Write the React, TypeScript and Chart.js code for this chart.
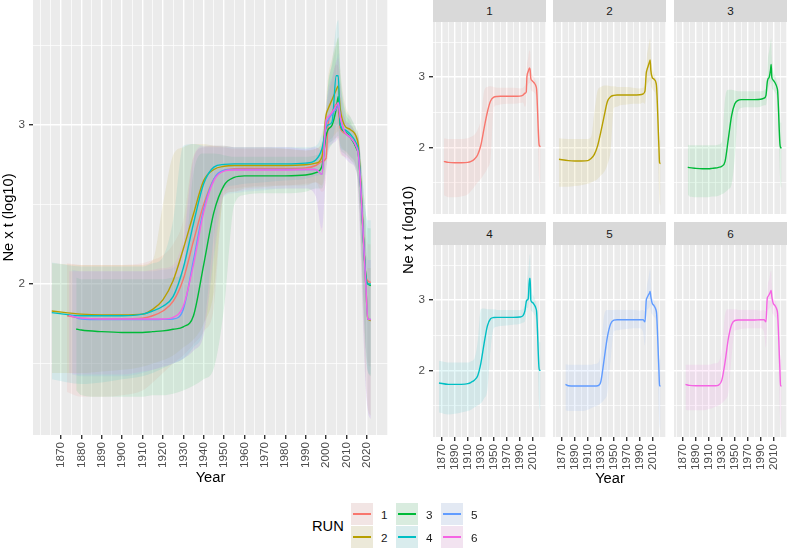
import React, { useEffect, useRef } from "react";
import { Chart, registerables } from "chart.js";
Chart.register(...registerables);

const FONT = "'Liberation Sans', Arial, Helvetica, sans-serif";

const RUN_LABELS = ["1", "2", "3", "4", "5", "6"];
const RUN_COLORS = ["#F8766D", "#B79F00", "#00BA38", "#00BFC4", "#619CFF", "#F564E3"];
const START_YEARS = [1873, 1865.5, 1877.5, 1865.5, 1875.5, 1874];
const YEARS = [1880, 1890, 1900, 1910, 1915, 1920, 1925, 1930, 1935, 1940, 1945, 1950, 1955, 1960, 1970, 1980, 1990, 1995, 1998, 2000, 2001, 2003, 2005, 2006, 2007, 2009, 2012, 2015, 2016, 2019.5, 2020.5, 2022];

const MEAN_1 = [1.80, 1.785, 1.78, 1.78, 1.785, 1.80, 1.83, 1.89, 2.03, 2.27, 2.50, 2.66, 2.715, 2.725, 2.727, 2.727, 2.727, 2.73, 2.745, 2.77, 2.79, 3.00, 3.08, 3.13, 3.10, 2.98, 2.95, 2.92, 2.87, 2.82, 2.06, 2.02, 2.01];
const MEAN_2 = [1.83, 1.81, 1.805, 1.805, 1.81, 1.84, 1.90, 2.02, 2.22, 2.44, 2.65, 2.72, 2.74, 2.745, 2.745, 2.745, 2.745, 2.75, 2.76, 2.80, 3.06, 3.10, 3.16, 3.22, 3.245, 3.10, 3.00, 2.97, 2.92, 2.85, 2.00, 1.78, 1.77];
const MEAN_3 = [1.717, 1.71, 1.70, 1.695, 1.695, 1.70, 1.705, 1.715, 1.73, 1.80, 2.12, 2.45, 2.62, 2.67, 2.68, 2.68, 2.68, 2.685, 2.70, 2.74, 2.93, 2.97, 3.00, 3.10, 3.18, 3.00, 2.96, 2.92, 2.85, 2.80, 2.05, 2.00, 1.99];
const MEAN_4 = [1.82, 1.80, 1.80, 1.80, 1.81, 1.83, 1.86, 1.92, 2.10, 2.38, 2.63, 2.735, 2.752, 2.755, 2.755, 2.755, 2.755, 2.76, 2.78, 2.85, 2.98, 3.00, 3.02, 3.31, 3.31, 3.00, 2.97, 2.94, 2.88, 2.83, 2.05, 2.00, 2.00];
const MEAN_5 = [1.80, 1.78, 1.776, 1.776, 1.776, 1.776, 1.777, 1.78, 1.84, 2.15, 2.47, 2.66, 2.715, 2.72, 2.72, 2.72, 2.72, 2.72, 2.72, 2.69, 3.00, 3.03, 3.07, 3.10, 3.125, 3.05, 2.96, 2.92, 2.86, 2.80, 2.00, 1.78, 1.776];
const MEAN_6 = [1.80, 1.785, 1.78, 1.78, 1.78, 1.78, 1.78, 1.79, 1.86, 2.12, 2.45, 2.65, 2.71, 2.717, 2.717, 2.717, 2.717, 2.72, 2.72, 2.69, 3.03, 3.05, 3.08, 3.12, 3.14, 3.05, 2.96, 2.92, 2.86, 2.80, 2.00, 1.78, 1.776];

const HI_1 = [2.13, 2.12, 2.12, 2.12, 2.13, 2.15, 2.18, 2.25, 2.40, 2.80, 2.86, 2.87, 2.86, 2.85, 2.85, 2.85, 2.85, 2.84, 2.85, 2.88, 2.95, 3.15, 3.28, 3.38, 3.36, 3.15, 3.05, 3.00, 2.95, 2.92, 2.35, 2.25, 2.25];
const LO_1 = [1.32, 1.29, 1.29, 1.30, 1.33, 1.38, 1.44, 1.50, 1.55, 1.62, 1.70, 1.85, 2.57, 2.60, 2.61, 2.62, 2.62, 2.63, 2.64, 2.58, 2.65, 2.85, 2.90, 2.92, 2.90, 2.82, 2.80, 2.78, 2.72, 2.62, 1.60, 1.50, 1.48];
const HI_2 = [2.13, 2.12, 2.12, 2.12, 2.12, 2.15, 2.50, 2.81, 2.86, 2.88, 2.88, 2.87, 2.87, 2.86, 2.86, 2.86, 2.85, 2.84, 2.85, 2.90, 3.15, 3.30, 3.42, 3.52, 3.55, 3.35, 3.15, 3.05, 2.97, 2.93, 2.25, 2.10, 2.10];
const LO_2 = [1.44, 1.44, 1.45, 1.46, 1.48, 1.50, 1.52, 1.55, 1.60, 1.65, 1.75, 1.95, 2.56, 2.58, 2.60, 2.61, 2.62, 2.62, 2.64, 2.62, 2.78, 2.88, 2.92, 2.95, 2.96, 2.88, 2.84, 2.80, 2.72, 2.55, 1.40, 1.22, 1.17];
const HI_3 = [2.04, 2.03, 2.03, 2.03, 2.03, 2.03, 2.03, 2.04, 2.08, 2.70, 2.82, 2.82, 2.81, 2.80, 2.80, 2.80, 2.80, 2.80, 2.81, 2.86, 3.05, 3.25, 3.38, 3.50, 3.55, 3.30, 3.10, 3.02, 2.93, 2.90, 2.45, 2.35, 2.35];
const LO_3 = [1.33, 1.30, 1.29, 1.29, 1.29, 1.30, 1.30, 1.31, 1.33, 1.36, 1.40, 1.47, 1.85, 2.50, 2.56, 2.57, 2.57, 2.58, 2.60, 2.60, 2.72, 2.82, 2.88, 2.92, 2.93, 2.85, 2.82, 2.78, 2.70, 2.60, 1.60, 1.45, 1.42];
const HI_4 = [2.135, 2.11, 2.11, 2.11, 2.11, 2.13, 2.17, 2.40, 2.87, 2.88, 2.87, 2.87, 2.87, 2.86, 2.86, 2.86, 2.86, 2.86, 2.87, 2.95, 3.10, 3.25, 3.40, 3.62, 3.66, 3.35, 3.12, 3.05, 2.97, 2.93, 2.45, 2.40, 2.40];
const LO_4 = [1.40, 1.37, 1.38, 1.40, 1.42, 1.44, 1.47, 1.50, 1.53, 1.60, 1.72, 2.30, 2.60, 2.62, 2.63, 2.64, 2.65, 2.66, 2.68, 2.70, 2.82, 2.88, 2.90, 3.00, 3.00, 2.86, 2.84, 2.80, 2.72, 2.60, 1.55, 1.45, 1.43];
const HI_5 = [2.09, 2.08, 2.08, 2.08, 2.08, 2.08, 2.09, 2.10, 2.25, 2.78, 2.86, 2.86, 2.86, 2.86, 2.86, 2.86, 2.86, 2.85, 2.86, 2.84, 3.10, 3.20, 3.30, 3.40, 3.45, 3.25, 3.05, 3.00, 2.93, 2.90, 2.25, 2.15, 2.15];
const LO_5 = [1.43, 1.42, 1.42, 1.42, 1.44, 1.46, 1.48, 1.50, 1.53, 1.58, 1.68, 2.15, 2.55, 2.57, 2.58, 2.59, 2.60, 2.60, 2.55, 2.35, 2.70, 2.84, 2.88, 2.90, 2.92, 2.84, 2.80, 2.76, 2.70, 2.50, 1.35, 1.20, 1.15];
const HI_6 = [2.08, 2.08, 2.08, 2.08, 2.08, 2.09, 2.10, 2.12, 2.30, 2.80, 2.87, 2.87, 2.87, 2.86, 2.86, 2.86, 2.86, 2.85, 2.86, 2.84, 3.10, 3.22, 3.30, 3.40, 3.42, 3.25, 3.05, 3.00, 2.93, 2.90, 2.25, 2.15, 2.15];
const LO_6 = [1.44, 1.43, 1.43, 1.43, 1.45, 1.46, 1.48, 1.50, 1.53, 1.58, 1.68, 2.20, 2.56, 2.58, 2.59, 2.60, 2.60, 2.60, 2.55, 2.32, 2.70, 2.84, 2.88, 2.90, 2.92, 2.84, 2.80, 2.76, 2.70, 2.50, 1.35, 1.20, 1.15];

const MEANS = [MEAN_1, MEAN_2, MEAN_3, MEAN_4, MEAN_5, MEAN_6];
const HIGHS = [HI_1, HI_2, HI_3, HI_4, HI_5, HI_6];
const LOWS = [LO_1, LO_2, LO_3, LO_4, LO_5, LO_6];

const X_LABELS_MAIN = [1870, 1880, 1890, 1900, 1910, 1920, 1930, 1940, 1950, 1960, 1970, 1980, 1990, 2000, 2010, 2020];
const X_MINOR_MAIN = [1860, 1865, 1875, 1885, 1895, 1905, 1915, 1925, 1935, 1945, 1955, 1965, 1975, 1985, 1995, 2005, 2015, 2025, 2030];
const X_LABELS_FACET = [1870, 1890, 1910, 1930, 1950, 1970, 1990, 2010];
const X_MINOR_FACET = [1860, 1880, 1900, 1920, 1940, 1960, 1980, 2000, 2020, 2030];
const Y_LABELS = [2, 3];
const Y_MINOR = [1.5, 2.5, 3.5];

const X_MIN = 1856.3;
const X_MAX = 2030.4;
const Y_MIN = 1.05;
const Y_MAX = 3.786;
const RIBBON_ALPHA = 0.1;

function rgba(hex: string, a: number) {
  const n = parseInt(hex.slice(1), 16);
  return `rgba(${(n >> 16) & 255},${(n >> 8) & 255},${n & 255},${a})`;
}

function pts(r: number, arr: number[]) {
  return [START_YEARS[r], ...YEARS].map((x, i) => ({ x, y: arr[i] }));
}

const panelBg = {
  id: "panelBg",
  beforeDraw(chart: any) {
    const { ctx, chartArea: a } = chart;
    ctx.save();
    ctx.fillStyle = "#EBEBEB";
    ctx.fillRect(a.left, a.top, a.right - a.left, a.bottom - a.top);
    ctx.restore();
  },
};

type Opts = {
  runs: number[];
  yWidth: number;
  xHeight: number;
  showY: boolean;
  showX: boolean;
  xLabels: number[];
  xMinor: number[];
  padRight: number;
  titles: boolean;
};

function buildConfig(o: Opts): any {
  const datasets: any[] = [];
  o.runs.forEach((r) =>
    datasets.push({
      data: pts(r, LOWS[r]),
      borderColor: "transparent",
      borderWidth: 0,
      pointRadius: 0,
      fill: false,
      cubicInterpolationMode: "monotone",
      order: 100,
    })
  );
  o.runs.forEach((r, k) =>
    datasets.push({
      data: pts(r, HIGHS[r]),
      borderColor: "transparent",
      borderWidth: 0,
      pointRadius: 0,
      fill: k,
      backgroundColor: rgba(RUN_COLORS[r], RIBBON_ALPHA),
      cubicInterpolationMode: "monotone",
      order: 90 - k,
    })
  );
  o.runs.forEach((r, k) =>
    datasets.push({
      data: pts(r, MEANS[r]),
      borderColor: RUN_COLORS[r],
      borderWidth: 1.4,
      pointRadius: 0,
      fill: false,
      cubicInterpolationMode: "monotone",
      order: 50 - k,
    })
  );
  const tickFont = { family: FONT, size: 11.7 };
  const titleFont = { family: FONT, size: 14.7 };
  const xMajor = new Set(o.xLabels);
  const yMajor = new Set(Y_LABELS);
  return {
    type: "line",
    data: { datasets },
    options: {
      animation: false,
      responsive: false,
      events: [],
      layout: { padding: { left: 0, right: o.padRight, top: 0, bottom: 0 } },
      plugins: { legend: { display: false }, tooltip: { enabled: false } },
      scales: {
        x: {
          type: "linear",
          min: X_MIN,
          max: X_MAX,
          afterBuildTicks: (s: any) => {
            s.ticks = [...o.xLabels, ...o.xMinor].sort((a, b) => a - b).map((v) => ({ value: v }));
          },
          afterFit: (s: any) => {
            s.height = o.xHeight;
            s.paddingLeft = 0;
            s.paddingRight = 0;
            s.paddingTop = 0;
            s.paddingBottom = 0;
          },
          ticks: {
            display: o.showX,
            autoSkip: false,
            minRotation: 90,
            maxRotation: 90,
            padding: 3,
            color: "#4D4D4D",
            font: tickFont,
            callback: (v: number) => (xMajor.has(v) ? String(v) : ""),
          },
          grid: {
            color: "#FFFFFF",
            lineWidth: (c: any) => (c.tick && xMajor.has(c.tick.value) ? 1.4 : 0.7),
            drawTicks: o.showX,
            tickLength: 4,
            tickWidth: 1.4,
            tickColor: (c: any) => (c.tick && xMajor.has(c.tick.value) ? "#333333" : "rgba(0,0,0,0)"),
          },
          border: { display: false },
          title: {
            display: o.titles,
            text: "Year",
            color: "#000000",
            font: titleFont,
            padding: { top: 0, bottom: 5 },
          },
        },
        y: {
          type: "linear",
          min: Y_MIN,
          max: Y_MAX,
          afterBuildTicks: (s: any) => {
            s.ticks = [...Y_LABELS, ...Y_MINOR].sort((a, b) => a - b).map((v) => ({ value: v }));
          },
          afterFit: (s: any) => {
            s.width = o.yWidth;
            s.paddingLeft = 0;
            s.paddingRight = 0;
            s.paddingTop = 0;
            s.paddingBottom = 0;
          },
          ticks: {
            display: o.showY,
            autoSkip: false,
            padding: 4,
            color: "#4D4D4D",
            font: tickFont,
            callback: (v: number) => (yMajor.has(v) ? String(v) : ""),
          },
          grid: {
            color: "#FFFFFF",
            lineWidth: (c: any) => (c.tick && yMajor.has(c.tick.value) ? 1.4 : 0.7),
            drawTicks: o.showY,
            tickLength: 4,
            tickWidth: 1.4,
            tickColor: (c: any) => (c.tick && yMajor.has(c.tick.value) ? "#333333" : "rgba(0,0,0,0)"),
          },
          border: { display: false },
          title: {
            display: o.titles,
            text: "Ne x t (log10)",
            color: "#000000",
            font: titleFont,
            padding: { top: 0, bottom: 0 },
          },
        },
      },
    },
    plugins: [panelBg],
  };
}

function ChartBox(props: { left: number; top: number; width: number; height: number; opts: Opts }) {
  const ref = useRef<HTMLCanvasElement>(null);
  useEffect(() => {
    const chart = new Chart(ref.current as HTMLCanvasElement, buildConfig(props.opts));
    return () => chart.destroy();
  }, []);
  return (
    <canvas
      ref={ref}
      width={props.width}
      height={props.height}
      style={{ position: "absolute", left: props.left, top: props.top, width: props.width, height: props.height }}
    />
  );
}

const COL_LEFT = [433, 553, 674];
const PANEL_W = 113;
const ROW_TOP = [22, 245];
const PANEL_H = 192;
const STRIP_TOP = [0, 222];
const STRIP_H = [22, 23];

export default function App() {
  const facets = RUN_LABELS.map((lab, i) => {
    const col = i % 3;
    const row = Math.floor(i / 3);
    const yW = col === 0 ? 20 : 0;
    const xH = row === 1 ? 45 : 0;
    return (
      <React.Fragment key={lab}>
        <div
          style={{
            position: "absolute",
            left: COL_LEFT[col],
            top: STRIP_TOP[row],
            width: PANEL_W,
            height: STRIP_H[row],
            background: "#D9D9D9",
            color: "#1A1A1A",
            fontSize: 11.7,
            lineHeight: STRIP_H[row] + "px",
            textAlign: "center",
          }}
        >
          {lab}
        </div>
        <ChartBox
          left={COL_LEFT[col] - yW}
          top={ROW_TOP[row]}
          width={PANEL_W + yW}
          height={PANEL_H + xH}
          opts={{
            runs: [i],
            yWidth: yW,
            xHeight: xH,
            showY: col === 0,
            showX: row === 1,
            xLabels: X_LABELS_FACET,
            xMinor: X_MINOR_FACET,
            padRight: 0,
            titles: false,
          }}
        />
      </React.Fragment>
    );
  });

  const legendCols = [351, 396, 441];
  const legendItems = RUN_LABELS.map((lab, i) => {
    const c = Math.floor(i / 2);
    const r = i % 2;
    const left = legendCols[c];
    const top = 503 + r * 23;
    return (
      <React.Fragment key={"lg" + lab}>
        <div style={{ position: "absolute", left, top, width: 22, height: 22, background: "#F2F2F2" }}>
          <div style={{ position: "absolute", inset: 0, background: rgba(RUN_COLORS[i], RIBBON_ALPHA) }} />
          <div
            style={{
              position: "absolute",
              left: 2,
              right: 2,
              top: 10.3,
              height: 1.4,
              background: RUN_COLORS[i],
            }}
          />
        </div>
        <div
          style={{
            position: "absolute",
            left: left + 30,
            top: top + 11,
            transform: "translateY(-50%)",
            fontSize: 11.7,
            color: "#1A1A1A",
          }}
        >
          {lab}
        </div>
      </React.Fragment>
    );
  });

  return (
    <div
      style={{
        position: "absolute",
        left: 0,
        top: 0,
        width: 787,
        height: 549,
        background: "#FFFFFF",
        overflow: "hidden",
        fontFamily: FONT,
      }}
    >
      <ChartBox
        left={0}
        top={0}
        width={395}
        height={492}
        opts={{
          runs: [0, 1, 2, 3, 4, 5],
          yWidth: 33,
          xHeight: 57,
          showY: true,
          showX: true,
          xLabels: X_LABELS_MAIN,
          xMinor: X_MINOR_MAIN,
          padRight: 7,
          titles: true,
        }}
      />
      {facets}
      <div
        style={{
          position: "absolute",
          left: 408,
          top: 230,
          transform: "translate(-50%, -50%) rotate(-90deg)",
          whiteSpace: "nowrap",
          fontSize: 14.7,
          color: "#000",
        }}
      >
        Ne x t (log10)
      </div>
      <div
        style={{
          position: "absolute",
          left: 610,
          top: 478,
          transform: "translate(-50%, -50%)",
          fontSize: 14.7,
          color: "#000",
        }}
      >
        Year
      </div>
      <div
        style={{
          position: "absolute",
          left: 312,
          top: 526,
          transform: "translateY(-50%)",
          fontSize: 14.7,
          color: "#000",
        }}
      >
        RUN
      </div>
      {legendItems}
    </div>
  );
}
